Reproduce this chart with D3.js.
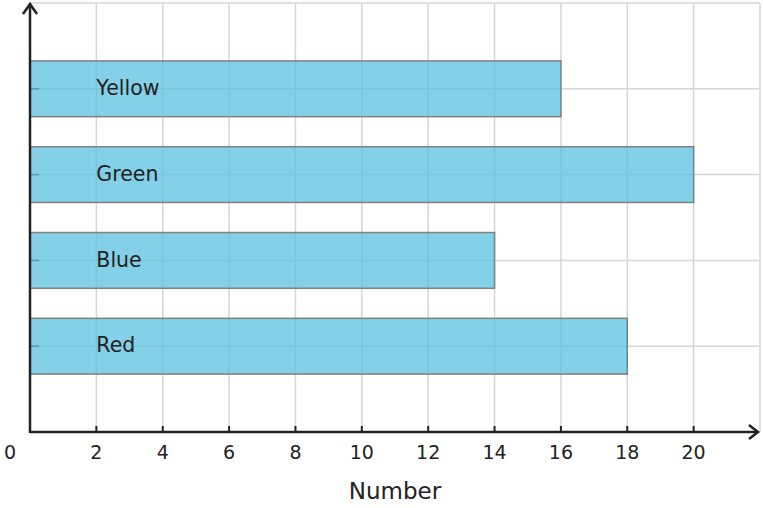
<!DOCTYPE html>
<html>
<head>
<meta charset="utf-8">
<script src="https://cdn.jsdelivr.net/npm/d3@7"></script>
<style>
  body { margin: 0; background: #fff; }
  text { font-family: "DejaVu Sans", sans-serif; fill: #222; }
</style>
</head>
<body>
<div id="chart"></div>
<script>
// data
var categories = ["Red", "Blue", "Green", "Yellow"];
var values = [18, 14, 20, 16];
var xTicks = [2, 4, 6, 8, 10, 12, 14, 16, 18, 20];
var xLabel = "Number";

var width = 763, height = 508;
var margin = { top: 3, right: 3, bottom: 76, left: 30 };

var svg = d3.select("#chart").append("svg")
	.attr("width", width)
	.attr("height", height);

var x = d3.scaleLinear().domain([0, 22]).range([margin.left, width - margin.right]);
var y = d3.scaleLinear().domain([0, 5]).range([height - margin.bottom, margin.top]);

// grid
var grid = svg.append("g").attr("stroke", "#d6d6d6").attr("stroke-width", 1.5);
d3.range(2, 23, 2).forEach(function (t) {
	grid.append("line")
		.attr("x1", x(t)).attr("x2", x(t))
		.attr("y1", y(0)).attr("y2", y(5));
});
d3.range(1, 6).forEach(function (t) {
	grid.append("line")
		.attr("x1", x(0)).attr("x2", x(22))
		.attr("y1", y(t)).attr("y2", y(t));
});

// y ticks (small dashes, under bars)
categories.forEach(function (c, i) {
	svg.append("line")
		.attr("x1", x(0)).attr("x2", x(0) + 9)
		.attr("y1", y(i + 1)).attr("y2", y(i + 1))
		.attr("stroke", "#333").attr("stroke-width", 1.5);
});

// bars
var barH = y(0) - y(0.65);
svg.selectAll(".bar").data(values).enter().append("rect")
	.attr("class", "bar")
	.attr("x", x(0))
	.attr("y", function (d, i) { return y(i + 1) - barH / 2; })
	.attr("width", function (d) { return x(d) - x(0); })
	.attr("height", barH)
	.attr("fill", "#5bc0e0")
	.attr("fill-opacity", 0.75)
	.attr("stroke", "#808080")
	.attr("stroke-width", 1.5);

// bar labels
svg.selectAll(".lbl").data(categories).enter().append("text")
	.attr("class", "lbl")
	.attr("x", x(2))
	.attr("y", function (d, i) { return y(i + 1) - 1; })
	.attr("dy", "0.35em")
	.attr("font-size", 20.5)
	.text(function (d) { return d; });

// axes
var ax = svg.append("g").attr("stroke", "#222").attr("stroke-width", 2.5).attr("fill", "none");
ax.append("line").attr("x1", x(0)).attr("x2", width - 6).attr("y1", y(0)).attr("y2", y(0));
ax.append("line").attr("x1", x(0)).attr("x2", x(0)).attr("y1", y(0) + 1).attr("y2", 6);
// arrow heads
ax.append("path").attr("d", "M" + (width - 14) + "," + (y(0) - 7) + " L" + (width - 5) + "," + y(0) + " L" + (width - 14) + "," + (y(0) + 7));
ax.append("path").attr("d", "M" + (x(0) - 7) + ",14 L" + x(0) + ",4 L" + (x(0) + 7) + ",14");

// x ticks
xTicks.forEach(function (t) {
	ax.append("line").attr("x1", x(t)).attr("x2", x(t)).attr("y1", y(0)).attr("y2", y(0) - 6).attr("stroke-width", 2);
});

svg.selectAll(".xt").data(xTicks).enter().append("text")
	.attr("class", "xt")
	.attr("x", function (d) { return x(d); })
	.attr("y", y(0) + 27)
	.attr("text-anchor", "middle")
	.attr("font-size", 19)
	.text(function (d) { return d; });

svg.append("text")
	.attr("x", 10).attr("y", y(0) + 27)
	.attr("text-anchor", "middle")
	.attr("font-size", 19)
	.text("0");

svg.append("text")
	.attr("x", 395).attr("y", y(0) + 67)
	.attr("text-anchor", "middle")
	.attr("font-size", 23)
	.text(xLabel);
</script>
</body>
</html>
